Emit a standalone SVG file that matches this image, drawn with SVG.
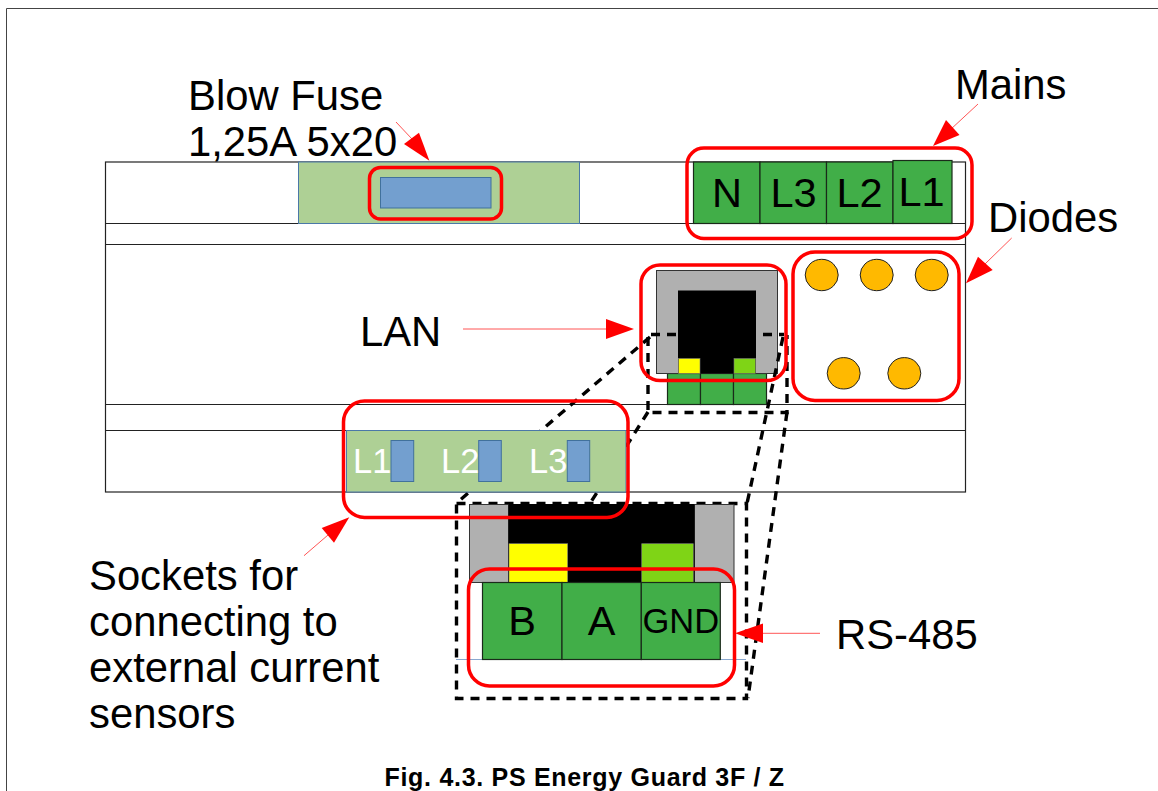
<svg xmlns="http://www.w3.org/2000/svg" width="1158" height="791" viewBox="0 0 1158 791">
<style>
text{font-family:"Liberation Sans",Arial,sans-serif;fill:#000}
.lbl{font-size:41.8px}
.term{font-size:41.5px;text-anchor:middle}
.wht{font-size:34.5px;fill:#fff}
.dev{fill:none;stroke:#222;stroke-width:1.2}
.gn{fill:#41ae48;stroke:#1a2a1a;stroke-width:1.2}
.panel{fill:#aed095;stroke:#4a78a8;stroke-width:1}
.blue{fill:#739fcf;stroke:#41719c;stroke-width:1}
.gray{fill:#b0b0b0;stroke:#333;stroke-width:1}
.blk{fill:#000}
.yl{fill:#ff0;stroke:#777;stroke-width:.6}
.lm{fill:#7fd416;stroke:#777;stroke-width:.6}
.led{fill:#ffb900;stroke:#222;stroke-width:1}
.red{fill:none;stroke:#f00;stroke-width:3.5}
.dash{fill:none;stroke:#000;stroke-width:3.4;stroke-dasharray:9 7}
.lead{stroke:#f55;stroke-width:1;fill:none}
.head{fill:#f00}
</style>
<g id="frame"><path d="M6.5 791V8.5H1158" fill="none" stroke="#444" stroke-width="1"/></g>
<g id="device">
<rect class="dev" x="105.5" y="162" width="860" height="330"/>
<path class="dev" d="M105.5 223.5H965.5M105.5 244.5H965.5M105.5 404.5H965.5M105.5 430.5H965.5"/>
</g>
<g id="fuse">
<rect class="panel" x="298.5" y="162" width="281" height="61.5"/>
<rect class="blue" x="380.5" y="177.5" width="110.5" height="30.5"/>
</g>
<g id="mains-terminals">
<rect class="gn" x="693.5" y="162" width="66.5" height="61.5"/>
<rect class="gn" x="760" y="162" width="66.5" height="61.5"/>
<rect class="gn" x="826.5" y="162" width="66.5" height="61.5"/>
<rect class="gn" x="893" y="160.5" width="59" height="63"/>
<text class="term" x="727" y="207">N</text>
<text class="term" x="793.5" y="207">L3</text>
<text class="term" x="859.5" y="207">L2</text>
<text class="term" x="921.5" y="206">L1</text>
</g>
<g id="lan-port">
<rect class="gn" x="667.5" y="373.5" width="33" height="31"/>
<rect class="gn" x="700.5" y="373.5" width="33" height="31"/>
<rect class="gn" x="733.5" y="373.5" width="33" height="31"/>
<rect class="gray" x="656.5" y="270.5" width="121" height="103"/>
<rect class="blk" x="678" y="290.5" width="78" height="83"/>
<rect class="yl" x="678.5" y="358.5" width="21.5" height="15"/>
<rect class="lm" x="734" y="358.5" width="21.5" height="15"/>
</g>
<g id="diodes">
<ellipse class="led" cx="821.7" cy="275" rx="16.5" ry="15.7"/>
<ellipse class="led" cx="876.7" cy="275" rx="16.5" ry="15.7"/>
<ellipse class="led" cx="931.7" cy="275" rx="16.5" ry="15.7"/>
<ellipse class="led" cx="843.7" cy="373.3" rx="16.5" ry="15.7"/>
<ellipse class="led" cx="904.3" cy="373.3" rx="16.5" ry="15.7"/>
</g>
<g id="connectors-dashed">
<path class="dash" d="M651 334.5H784"/>
<path class="dash" d="M648 337V412.5H787V335"/>
<path class="dash" d="M650 337L456 503.5"/>
<path class="dash" d="M648 412L590 503.5"/>
<path class="dash" d="M783 337L747 503.5"/>
<path class="dash" d="M787 412L748 698"/>
<rect class="dash" x="456.5" y="503.5" width="290" height="195"/>
<path d="M456 659.5H746" stroke="#8aa8cf" stroke-width="1" fill="none"/>
</g>
<g id="sockets">
<rect class="panel" x="346.5" y="430.5" width="279.5" height="61.5"/>
<rect class="blue" x="391" y="440.5" width="22.7" height="41"/>
<rect class="blue" x="478.7" y="440.5" width="22.6" height="41"/>
<rect class="blue" x="567.3" y="440.5" width="22.4" height="41"/>
<text class="wht" x="353" y="473">L1</text>
<text class="wht" x="441" y="473">L2</text>
<text class="wht" x="529" y="473">L3</text>
</g>
<g id="rs485-connector">
<rect class="gray" x="469.5" y="504.5" width="39" height="78"/>
<rect class="gray" x="694.5" y="504.5" width="39.5" height="78"/>
<rect class="blk" x="508.5" y="504" width="186" height="78.5"/>
<rect class="yl" x="509" y="543.7" width="58.7" height="38.8"/>
<rect class="lm" x="641.7" y="543.7" width="51.6" height="38.8"/>
<rect class="gn" x="482.5" y="582.5" width="79.5" height="77"/>
<rect class="gn" x="562" y="582.5" width="79.3" height="77"/>
<rect class="gn" x="641.3" y="582.5" width="79" height="77"/>
<text class="term" x="522" y="635">B</text>
<text class="term" x="601.5" y="635">A</text>
<text class="term" x="680.8" y="633" style="font-size:34.5px">GND</text>
</g>
<g id="highlights">
<rect class="red" x="369.5" y="167.5" width="132" height="51.5" rx="11"/>
<rect class="red" x="687" y="148" width="285" height="90.5" rx="17"/>
<rect class="red" x="793" y="252" width="166" height="148.5" rx="22"/>
<rect class="red" x="641" y="265" width="145" height="115.5" rx="19"/>
<rect class="red" x="343.5" y="401" width="284.5" height="116.5" rx="21"/>
<rect class="red" x="468.5" y="569" width="266" height="117" rx="21"/>
</g>
<g id="connectors-arrows">
<path class="lead" d="M396 122L412 139"/><path class="head" d="M429.4 160.7L404 144L419 132.7Z"/>
<path class="lead" d="M978 104L950 130"/><path class="head" d="M933 146L946 120L959.5 135Z"/>
<path class="lead" d="M1011.7 238L985 264"/><path class="head" d="M966 283.3L978 256.7L992.7 270Z"/>
<path class="lead" d="M463 329H610"/><path class="head" d="M634 329L606 319V339Z"/>
<path class="lead" d="M304 555.7L328 535"/><path class="head" d="M349.3 517.3L321.7 528L334 542.7Z"/>
<path class="lead" d="M763 633.3H820"/><path class="head" d="M735 633.3L763 623.5V643Z"/>
</g>
<g id="labels">
<text class="lbl" x="188" y="110">Blow Fuse</text>
<text class="lbl" x="188" y="156">1,25A 5x20</text>
<text class="lbl" x="955" y="99">Mains</text>
<text class="lbl" x="988" y="232">Diodes</text>
<text class="lbl" x="360" y="346">LAN</text>
<text class="lbl" x="89" y="590">Sockets for</text>
<text class="lbl" x="89" y="636">connecting to</text>
<text class="lbl" x="89" y="682">external current</text>
<text class="lbl" x="89" y="728">sensors</text>
<text class="lbl" x="836" y="649">RS-485</text>
<text x="384.5" y="786" font-size="25" letter-spacing="0.7" font-weight="bold">Fig. 4.3. PS Energy Guard 3F / Z</text>
</g>
</svg>
